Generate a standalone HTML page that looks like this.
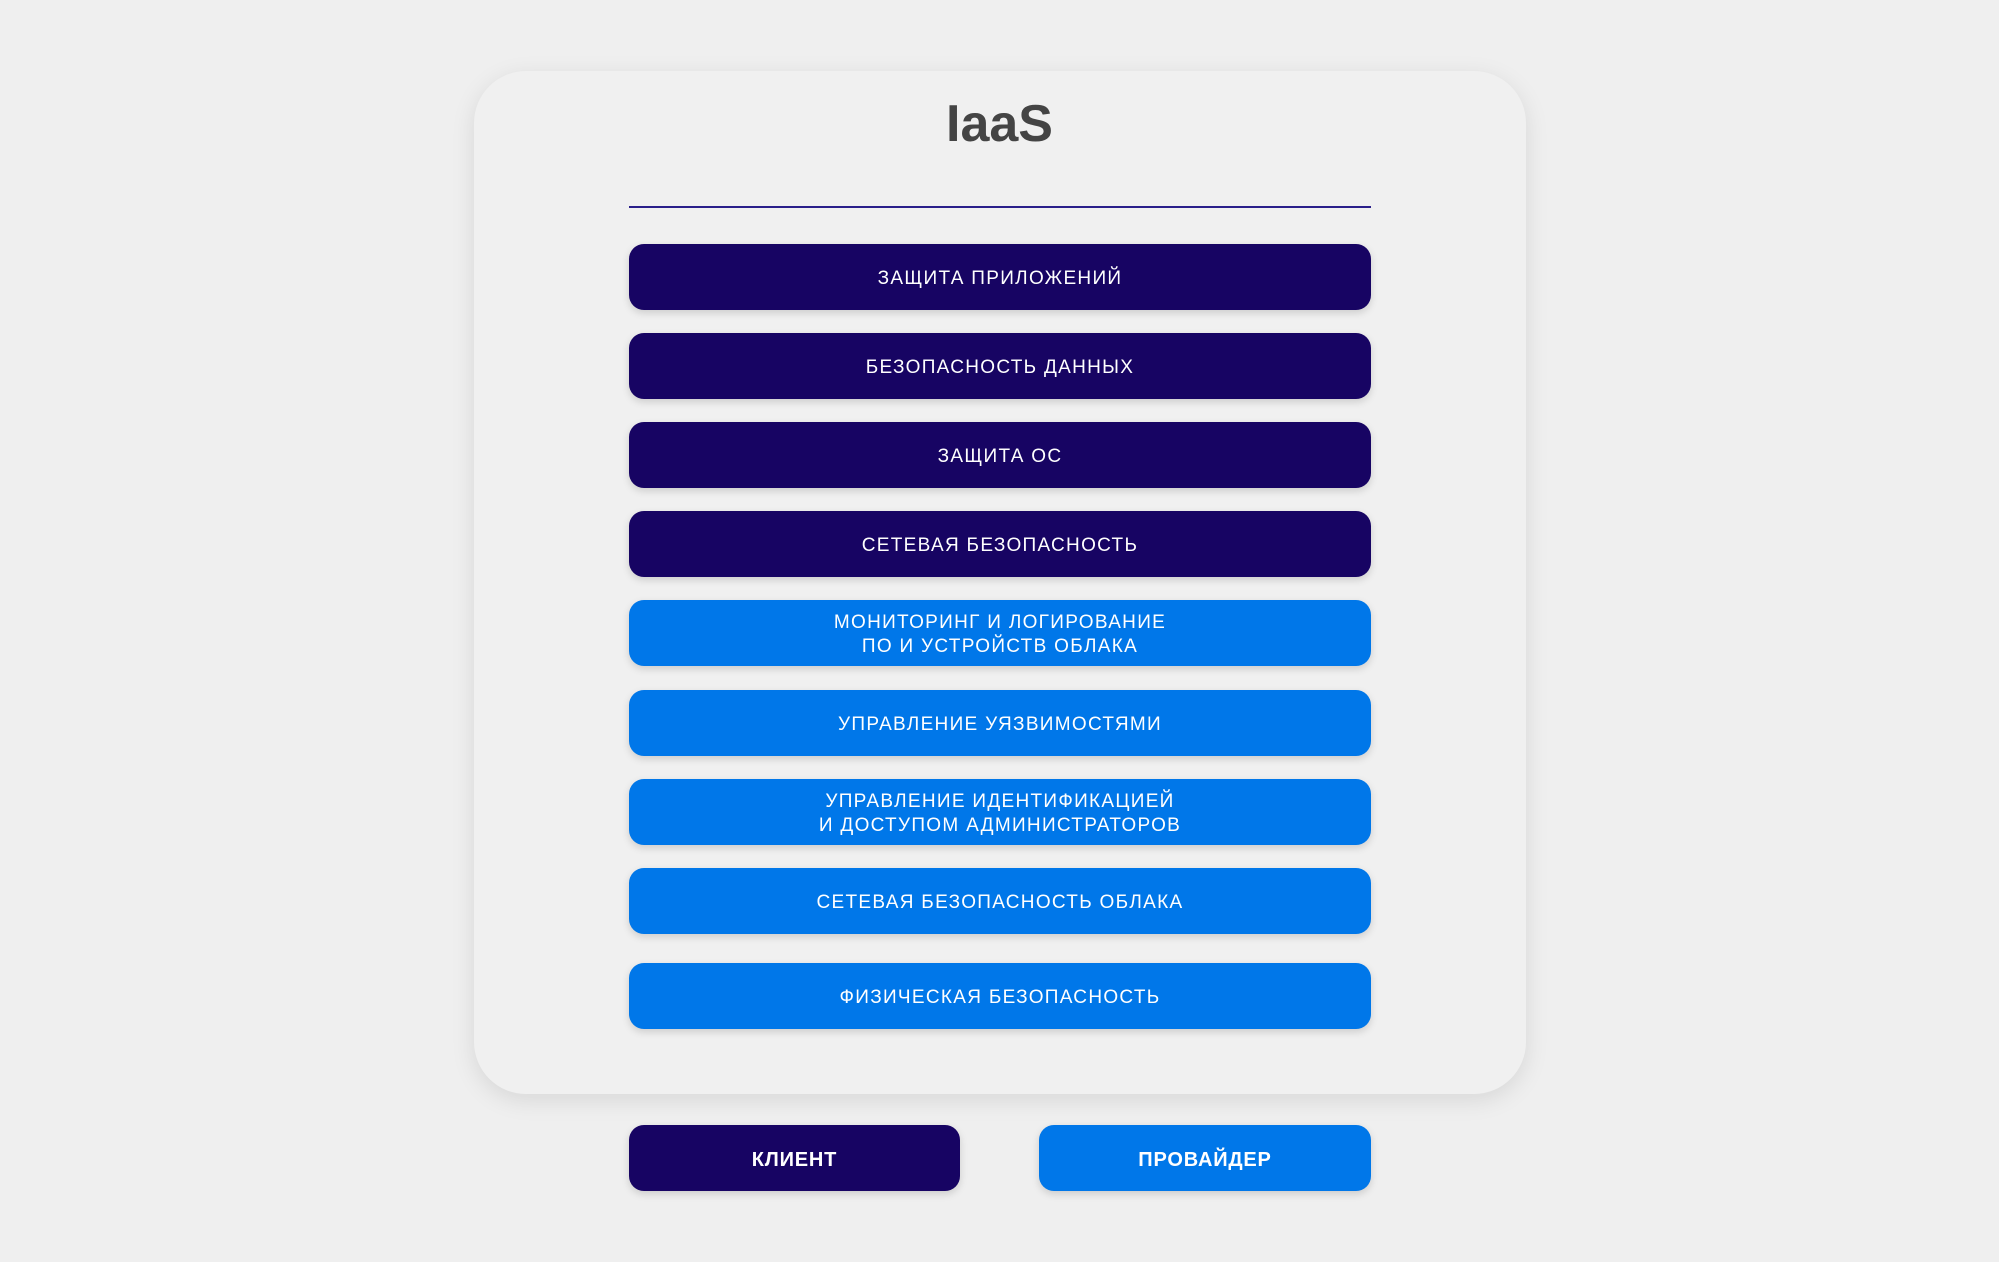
<!DOCTYPE html>
<html><head><meta charset="utf-8"><style>
html,body{margin:0;padding:0;}
body{width:1999px;height:1262px;background:#efefef;position:relative;overflow:hidden;font-family:"Liberation Sans","DejaVu Sans",sans-serif;}
.card{position:absolute;left:474px;top:71px;width:1052px;height:1023px;background:#f0f0f0;border-radius:52px;box-shadow:0 6px 24px rgba(0,0,0,0.10);}
.title{position:absolute;left:0;width:1999px;top:94px;text-align:center;font-size:52px;font-weight:bold;color:#444;}
.line{position:absolute;left:629px;top:206px;width:742px;height:2px;background:#2a1f8a;}
.b{position:absolute;left:629px;width:742px;height:66px;padding-top:3px;box-sizing:border-box;border-radius:15px;color:#fff;font-size:19px;letter-spacing:1.3px;display:flex;align-items:center;justify-content:center;text-align:center;line-height:24px;box-shadow:0 3px 8px rgba(0,0,0,0.15);}
.d{background:#170463;}
.l{background:#0077e9;}
.s{font-weight:bold;font-size:20px;letter-spacing:0.8px;}
</style></head><body>
<div class="card"></div>
<div class="title">IaaS</div>
<div class="line"></div>
<div class="b d" style="top:244px">ЗАЩИТА ПРИЛОЖЕНИЙ</div>
<div class="b d" style="top:333px">БЕЗОПАСНОСТЬ ДАННЫХ</div>
<div class="b d" style="top:422px">ЗАЩИТА ОС</div>
<div class="b d" style="top:511px">СЕТЕВАЯ БЕЗОПАСНОСТЬ</div>
<div class="b l" style="top:600px">МОНИТОРИНГ И ЛОГИРОВАНИЕ<br>ПО И УСТРОЙСТВ ОБЛАКА</div>
<div class="b l" style="top:690px">УПРАВЛЕНИЕ УЯЗВИМОСТЯМИ</div>
<div class="b l" style="top:779px">УПРАВЛЕНИЕ ИДЕНТИФИКАЦИЕЙ<br>И ДОСТУПОМ АДМИНИСТРАТОРОВ</div>
<div class="b l" style="top:868px">СЕТЕВАЯ БЕЗОПАСНОСТЬ ОБЛАКА</div>
<div class="b l" style="top:963px">ФИЗИЧЕСКАЯ БЕЗОПАСНОСТЬ</div>
<div class="b d s" style="top:1125px;width:331px">КЛИЕНТ</div>
<div class="b l s" style="top:1125px;left:1039px;width:332px">ПРОВАЙДЕР</div>
</body></html>
